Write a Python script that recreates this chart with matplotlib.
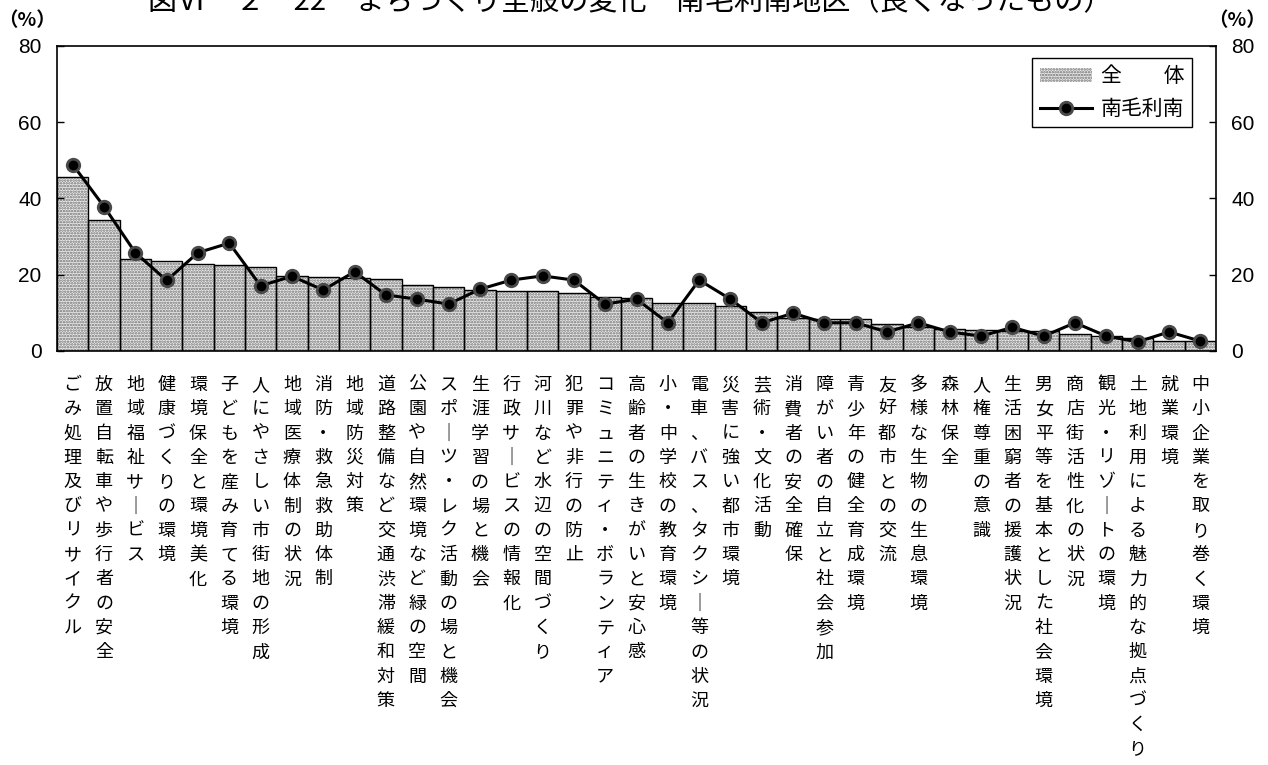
import numpy as np
import matplotlib
matplotlib.use("Agg")
import matplotlib.pyplot as plt
import matplotlib.transforms as mtransforms

plt.rcParams["font.family"] = ["Noto Sans CJK JP", "DejaVu Sans"]
plt.rcParams["hatch.linewidth"] = 1.2

# ── data ─────────────────────────────────────────────────────────────
title = "図Ⅵ－２－22　まちづくり全般の変化－南毛利南地区（良くなったもの）"

categories = [
    "ごみ処理及びリサイクル", "放置自転車や歩行者の安全", "地域福祉サービス",
    "健康づくりの環境", "環境保全と環境美化", "子どもを産み育てる環境",
    "人にやさしい市街地の形成", "地域医療体制の状況", "消防・救急救助体制",
    "地域防災対策", "道路整備など交通渋滞緩和対策", "公園や自然環境など緑の空間",
    "スポーツ・レク活動の場と機会", "生涯学習の場と機会", "行政サービスの情報化",
    "河川など水辺の空間づくり", "犯罪や非行の防止", "コミュニティ・ボランティア",
    "高齢者の生きがいと安心感", "小・中学校の教育環境", "電車、バス、タクシー等の状況",
    "災害に強い都市環境", "芸術・文化活動", "消費者の安全確保",
    "障がい者の自立と社会参加", "青少年の健全育成環境", "友好都市との交流",
    "多様な生物の生息環境", "森林保全", "人権尊重の意識",
    "生活困窮者の援護状況", "男女平等を基本とした社会環境", "商店街活性化の状況",
    "観光・リゾートの環境", "土地利用による魅力的な拠点づくり", "就業環境",
    "中小企業を取り巻く環境",
]

zentai = [45.6, 34.3, 24.0, 23.7, 22.8, 22.5, 22.1, 19.8, 19.4, 19.1,
          18.8, 17.2, 16.7, 16.0, 15.8, 15.7, 15.1, 14.1, 13.9, 12.7,
          12.7, 11.9, 10.1, 8.7, 8.5, 8.5, 7.0, 6.2, 5.7, 5.5,
          5.3, 5.2, 4.5, 3.9, 3.3, 2.6, 2.6]

minami = [48.9, 37.9, 25.8, 18.5, 25.8, 28.3, 17.1, 19.6, 16.0, 20.8,
          14.7, 13.6, 12.3, 16.2, 18.6, 19.7, 18.6, 12.3, 13.6, 7.4,
          18.6, 13.6, 7.4, 9.9, 7.4, 7.4, 5.0, 7.4, 5.0, 3.9,
          6.2, 3.9, 7.4, 3.9, 2.4, 5.0, 2.6]

yticks = [0, 20, 40, 60, 80]
series_names = ["全　　体", "南毛利南"]

# ── figure ───────────────────────────────────────────────────────────
W, H = 1268, 765
fig = plt.figure(figsize=(W / 100, H / 100), dpi=100)
ax = fig.add_axes([57 / W, 1 - 351 / H, (1216 - 57) / W, (351 - 46) / H])

x = np.arange(len(categories))
bars = ax.bar(x, zentai, width=1.0, color="#ececec", edgecolor="#6e6e6e",
              hatch="......", linewidth=0, label=series_names[0])
ax.bar(x, zentai, width=1.0, fill=False, edgecolor="black", linewidth=1.0)
line, = ax.plot(x, minami, color="black", linewidth=2.2, marker="o",
                markersize=9, markerfacecolor="black",
                markeredgecolor="#4a4a4a", markeredgewidth=2,
                label=series_names[1])

ax.set_xlim(-0.5, len(categories) - 0.5)
ax.set_ylim(0, 80)
ax.set_xticks([])
ax.set_yticks(yticks)
ax.tick_params(axis="y", direction="in", length=5, width=1,
               left=True, right=True, labelleft=True, labelright=True,
               labelsize=15, pad=11)
for lab in ax.get_yticklabels():
    lab.set_fontfamily("Liberation Sans")
for s in ax.spines.values():
    s.set_linewidth(1.2)
    s.set_color("black")

leg = ax.legend(handles=[bars, line], labels=series_names,
                loc="upper right", bbox_to_anchor=(1192 / W, 1 - 58 / H),
                bbox_transform=fig.transFigure, borderaxespad=0,
                fancybox=False, framealpha=1, edgecolor="black",
                fontsize=15, handlelength=2.5, handleheight=0.65,
                borderpad=0.35, labelspacing=0.5, handletextpad=0.45)
leg.get_frame().set_linewidth(1.0)

# vertical category labels, one character per row
trans = mtransforms.blended_transform_factory(ax.transData, fig.transFigure)
vmap = {"ー": "｜"}
for i, name in enumerate(categories):
    for j, ch in enumerate(name):
        y = 385 + 24.3 * j
        fig.text(i, 1 - y / H, vmap.get(ch, ch), transform=trans,
                 ha="center", va="center", fontsize=13)

# unit labels and (cropped) title
fig.text(27 / W, 1 - 21 / H, "（%）", ha="center", va="center",
         fontsize=14, fontweight="bold")
fig.text(1237 / W, 1 - 21 / H, "（%）", ha="center", va="center",
         fontsize=14, fontweight="bold")
fig.text(0.497, 1 - 10 / H, title, ha="center", va="baseline", fontsize=21)

fig.savefig("out.png", dpi=100)
